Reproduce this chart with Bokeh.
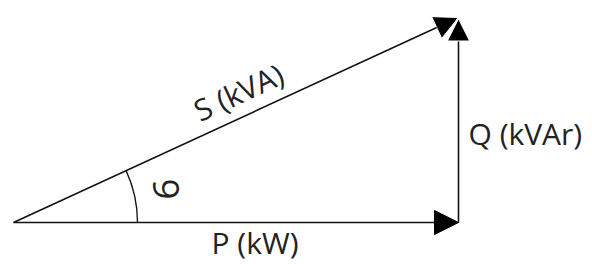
import numpy as np
from bokeh.plotting import figure
from bokeh.models import Range1d, Arrow, NormalHead
from bokeh.core.properties import value
from bokeh.embed import file_html
from bokeh.resources import INLINE

# Power triangle values (diagram units)
P_kW = 445.0
Q_kVAr = 205.0
labels = ["P (kW)", "Q (kVAr)", "S (kVA)"]
phi_label = "6"

theta = np.arctan2(Q_kVAr, P_kW)

p = figure(width=592, height=264, output_backend="svg", toolbar_location=None,
           x_range=Range1d(-13, 579), y_range=Range1d(-42, 222),
           min_border=0, min_border_left=0, min_border_right=0,
           min_border_top=0, min_border_bottom=0)
p.axis.visible = False
p.grid.visible = False
p.outline_line_color = None
p.background_fill_color = "white"
p.border_fill_color = "white"

lc = "#111111"
lw = 1.6

# S arrow (hypotenuse)
p.add_layout(Arrow(x_start=0, y_start=0, x_end=P_kW, y_end=Q_kVAr,
                   line_color=lc, line_width=lw,
                   end=NormalHead(size=24, fill_color="black", line_color="white", line_width=1)))
# P arrow
p.add_layout(Arrow(x_start=0, y_start=0, x_end=P_kW, y_end=0,
                   line_color=lc, line_width=lw,
                   end=NormalHead(size=24, fill_color="black", line_color="black", line_width=1)))
# Q arrow
p.add_layout(Arrow(x_start=P_kW, y_start=0, x_end=P_kW, y_end=Q_kVAr,
                   line_color=lc, line_width=lw,
                   end=NormalHead(size=24, fill_color="black", line_color="white", line_width=2)))

# angle arc
arc_r = 124
p.arc(x=[0], y=[0], radius=arc_r, start_angle=0, end_angle=theta,
      line_color=lc, line_width=1.3)

font = value("Open Sans")
tc = "#222222"
fs = "30px"

# P label
p.text(x=[P_kW / 2], y=[0], text=[labels[0]], text_font=font, text_font_size=fs,
       text_color=tc, text_align="center", text_baseline="middle", x_offset=19, y_offset=20)
# Q label
p.text(x=[P_kW], y=[Q_kVAr / 2], text=[labels[1]], text_font=font, text_font_size=fs,
       text_color=tc, text_align="left", text_baseline="middle", x_offset=10, y_offset=13)
# S label
p.text(x=[P_kW / 2], y=[Q_kVAr / 2], text=[labels[2]], text_font=font, text_font_size=fs,
       text_color=tc, text_align="center", text_baseline="middle", angle=theta,
       x_offset=2.5, y_offset=-28)
# phi symbol
phi_r = 156
p.text(x=[phi_r * np.cos(theta / 2)], y=[phi_r * np.sin(theta / 2)], text=[phi_label],
       text_font=font, text_font_size="37px", text_color=tc,
       text_align="center", text_baseline="middle", angle=np.pi / 2)

open("out.html", "w").write(file_html(p, INLINE))
